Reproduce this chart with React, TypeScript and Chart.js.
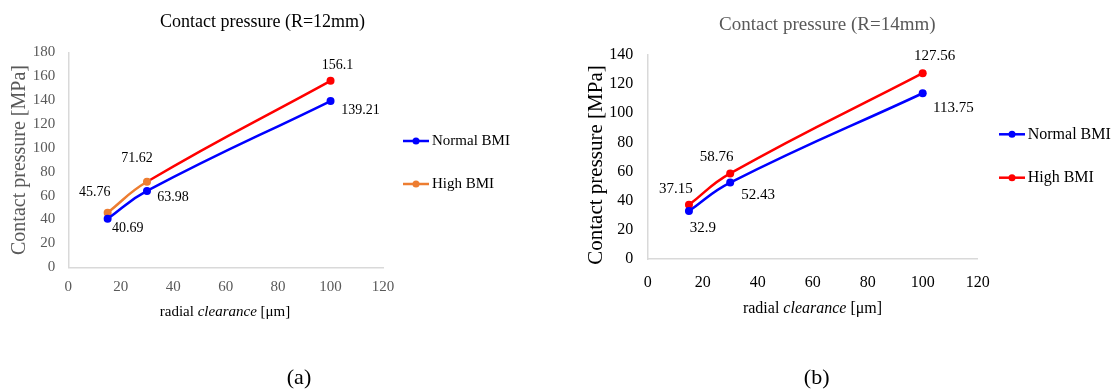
import React, { useEffect, useRef } from "react";
import { Chart, registerables } from "chart.js";
Chart.register(...registerables);

// ---------- data ----------
const clearance = [15, 30, 100];
const seriesNames = ["Normal BMI", "High BMI"];
const normalR12 = [40.69, 63.98, 139.21];
const highR12 = [45.76, 71.62, 156.1];
const normalR14 = [32.9, 52.43, 113.75];
const highR14 = [37.15, 58.76, 127.56];
const titleR12 = "Contact pressure (R=12mm)";
const titleR14 = "Contact pressure (R=14mm)";
const yAxisTitle = "Contact pressure [MPa]";
const xAxisTitleParts = ["radial ", "clearance", " [μm]"];
const captions = ["(a)", "(b)"];
const xMax = 120;
const yMaxR12 = 180;
const yMaxR14 = 140;
const tickStep = 20;

const SERIF = "'Liberation Serif', 'Times New Roman', Times, serif";
const BLUE = "#0000FF";
const RED = "#FF0000";
const ORANGE = "#ED7D31";

type Spec = {
  width: number;
  height: number;
  left: number;
  yMax: number;
  title: string;
  normal: number[];
  high: number[];
  highBase: string;
  highPoints: string[];
  highSegFirst: string;
  padding: { left: number; right: number; top: number; bottom: number };
  tickFont: number;
  tickColor: string;
  yTickPad: number;
  xTickPad: number;
  titleStyle: { x: number; y: number; size: number; color: string };
  yTitleStyle: { x: number; y: number; size: number; color: string };
  xTitleStyle: { x: number; y: number; size: number; color: string };
  legendStyle: { x0: number; x1: number; tx: number; ys: number[]; size: number };
  labelSize: number;
  labelOffsets: number[][][];
};

const specA: Spec = {
  width: 560,
  height: 390,
  left: 0,
  yMax: yMaxR12,
  title: titleR12,
  normal: normalR12,
  high: highR12,
  highBase: ORANGE,
  highPoints: [ORANGE, ORANGE, RED],
  highSegFirst: ORANGE,
  padding: { left: 28.3, right: 177, top: 52.3, bottom: 82.7 },
  tickFont: 15,
  tickColor: "#595959",
  yTickPad: 13,
  xTickPad: 11,
  titleStyle: { x: 262.5, y: 22.5, size: 18, color: "#000000" },
  yTitleStyle: { x: 19.5, y: 160, size: 20, color: "#595959" },
  xTitleStyle: { x: 225, y: 312.3, size: 15, color: "#000000" },
  legendStyle: { x0: 403, x1: 429, tx: 432, ys: [141, 184], size: 15 },
  labelSize: 14,
  labelOffsets: [
    [[20, 10], [26, 6], [30, 9]],
    [[-13, -20], [-10, -23.5], [7, -16]],
  ],
};

const specB: Spec = {
  width: 555,
  height: 390,
  left: 560,
  yMax: yMaxR14,
  title: titleR14,
  normal: normalR14,
  high: highR14,
  highBase: RED,
  highPoints: [RED, RED, RED],
  highSegFirst: RED,
  padding: { left: 47.7, right: 137.3, top: 55, bottom: 91 },
  tickFont: 16,
  tickColor: "#000000",
  yTickPad: 14.4,
  xTickPad: 14,
  titleStyle: { x: 267.3, y: 25, size: 19, color: "#595959" },
  yTitleStyle: { x: 36, y: 165, size: 21, color: "#000000" },
  xTitleStyle: { x: 252.5, y: 308.3, size: 16, color: "#000000" },
  legendStyle: { x0: 439, x1: 465, tx: 467.7, ys: [134.3, 177.7], size: 16 },
  labelSize: 15,
  labelOffsets: [
    [[14, 17], [28, 12.5], [30.6, 15]],
    [[-13, -15.6], [-13.5, -16.7], [12, -17]],
  ],
};

function makeOverlay(spec: Spec) {
  return {
    id: "overlay",
    afterDraw(chart: any) {
      const ctx = chart.ctx as CanvasRenderingContext2D;
      ctx.save();
      ctx.textAlign = "center";
      ctx.textBaseline = "middle";
      // title
      const t = spec.titleStyle;
      ctx.font = `${t.size}px ${SERIF}`;
      ctx.fillStyle = t.color;
      ctx.fillText(spec.title, t.x, t.y);
      // y title
      const yt = spec.yTitleStyle;
      ctx.save();
      ctx.translate(yt.x, yt.y);
      ctx.rotate(-Math.PI / 2);
      ctx.font = `${yt.size}px ${SERIF}`;
      ctx.fillStyle = yt.color;
      ctx.fillText(yAxisTitle, 0, 0);
      ctx.restore();
      // x title (mixed italic)
      const xt = spec.xTitleStyle;
      const fonts = [
        `${xt.size}px ${SERIF}`,
        `italic ${xt.size}px ${SERIF}`,
        `${xt.size}px ${SERIF}`,
      ];
      const widths = xAxisTitleParts.map((p, i) => {
        ctx.font = fonts[i];
        return ctx.measureText(p).width;
      });
      const total = widths.reduce((a, b) => a + b, 0);
      let cx = xt.x - total / 2;
      ctx.textAlign = "left";
      ctx.fillStyle = xt.color;
      xAxisTitleParts.forEach((p, i) => {
        ctx.font = fonts[i];
        ctx.fillText(p, cx, xt.y);
        cx += widths[i];
      });
      // legend
      const lg = spec.legendStyle;
      chart.data.datasets.forEach((ds: any, i: number) => {
        const y = lg.ys[i];
        ctx.strokeStyle = ds.borderColor;
        ctx.lineWidth = 2.5;
        ctx.beginPath();
        ctx.moveTo(lg.x0, y);
        ctx.lineTo(lg.x1, y);
        ctx.stroke();
        ctx.fillStyle = ds.borderColor;
        ctx.beginPath();
        ctx.arc((lg.x0 + lg.x1) / 2, y, 3.5, 0, Math.PI * 2);
        ctx.fill();
        ctx.font = `${lg.size}px ${SERIF}`;
        ctx.fillStyle = "#000000";
        ctx.textAlign = "left";
        ctx.fillText(ds.label, lg.tx, y);
      });
      // data labels
      ctx.textAlign = "center";
      ctx.font = `${spec.labelSize}px ${SERIF}`;
      ctx.fillStyle = "#000000";
      chart.data.datasets.forEach((ds: any, i: number) => {
        const meta = chart.getDatasetMeta(i);
        meta.data.forEach((pt: any, j: number) => {
          const off = spec.labelOffsets[i][j];
          const v = ds.data[j].y;
          ctx.fillText(String(v), pt.x + off[0], pt.y + off[1]);
        });
      });
      ctx.restore();
    },
  };
}

function PressureChart({ spec }: { spec: Spec }) {
  const ref = useRef<HTMLCanvasElement | null>(null);
  useEffect(() => {
    if (!ref.current) return;
    const tickCfg = (pad: number) => ({
      stepSize: tickStep,
      color: spec.tickColor,
      font: { family: SERIF, size: spec.tickFont },
      padding: pad,
    });
    const chart = new Chart(ref.current, {
      type: "line",
      data: {
        datasets: [
          {
            label: seriesNames[0],
            data: clearance.map((x, i) => ({ x, y: spec.normal[i] })),
            borderColor: BLUE,
            backgroundColor: BLUE,
            pointBackgroundColor: BLUE,
            pointBorderColor: BLUE,
            pointRadius: 4,
            pointBorderWidth: 0,
            borderWidth: 2.5,
            tension: 0.45,
          },
          {
            label: seriesNames[1],
            data: clearance.map((x, i) => ({ x, y: spec.high[i] })),
            borderColor: spec.highBase,
            backgroundColor: spec.highBase,
            pointBackgroundColor: spec.highPoints,
            pointBorderColor: spec.highPoints,
            pointRadius: 4,
            pointBorderWidth: 0,
            borderWidth: 2.5,
            tension: 0.45,
            segment: {
              borderColor: (c: any) => (c.p0DataIndex === 0 ? spec.highSegFirst : RED),
            },
          },
        ],
      } as any,
      options: {
        responsive: false,
        animation: false,
        devicePixelRatio: 1,
        layout: { padding: spec.padding },
        plugins: {
          legend: { display: false },
          title: { display: false },
          tooltip: { enabled: false },
        },
        scales: {
          x: {
            type: "linear",
            min: 0,
            max: xMax,
            ticks: tickCfg(spec.xTickPad),
            grid: { display: false, drawTicks: false },
            border: { display: true, color: "#d9d9d9", width: 1.5 },
            afterFit: (s: any) => {
              s.height = 40;
            },
          },
          y: {
            type: "linear",
            min: 0,
            max: spec.yMax,
            ticks: tickCfg(spec.yTickPad),
            grid: { display: false, drawTicks: false },
            border: { display: true, color: "#d9d9d9", width: 1.5 },
            afterFit: (s: any) => {
              s.width = 40;
            },
          },
        },
      } as any,
      plugins: [makeOverlay(spec)],
    });
    return () => chart.destroy();
  }, [spec]);
  return (
    <canvas
      ref={ref}
      width={spec.width}
      height={spec.height}
      style={{
        position: "absolute",
        left: spec.left,
        top: 0,
        width: spec.width,
        height: spec.height,
      }}
    />
  );
}

export default function App() {
  const capStyle = (cx: number): React.CSSProperties => ({
    position: "absolute",
    left: cx,
    top: 365.7,
    transform: "translateX(-50%)",
    fontFamily: SERIF,
    fontSize: 22,
    lineHeight: "22px",
    color: "#000",
    whiteSpace: "nowrap",
  });
  return (
    <div
      style={{
        position: "absolute",
        left: 0,
        top: 0,
        width: 1115,
        height: 390,
        background: "#fff",
        overflow: "hidden",
      }}
    >
      <PressureChart spec={specA} />
      <PressureChart spec={specB} />
      <div style={capStyle(299)}>{captions[0]}</div>
      <div style={capStyle(816.7)}>{captions[1]}</div>
    </div>
  );
}
